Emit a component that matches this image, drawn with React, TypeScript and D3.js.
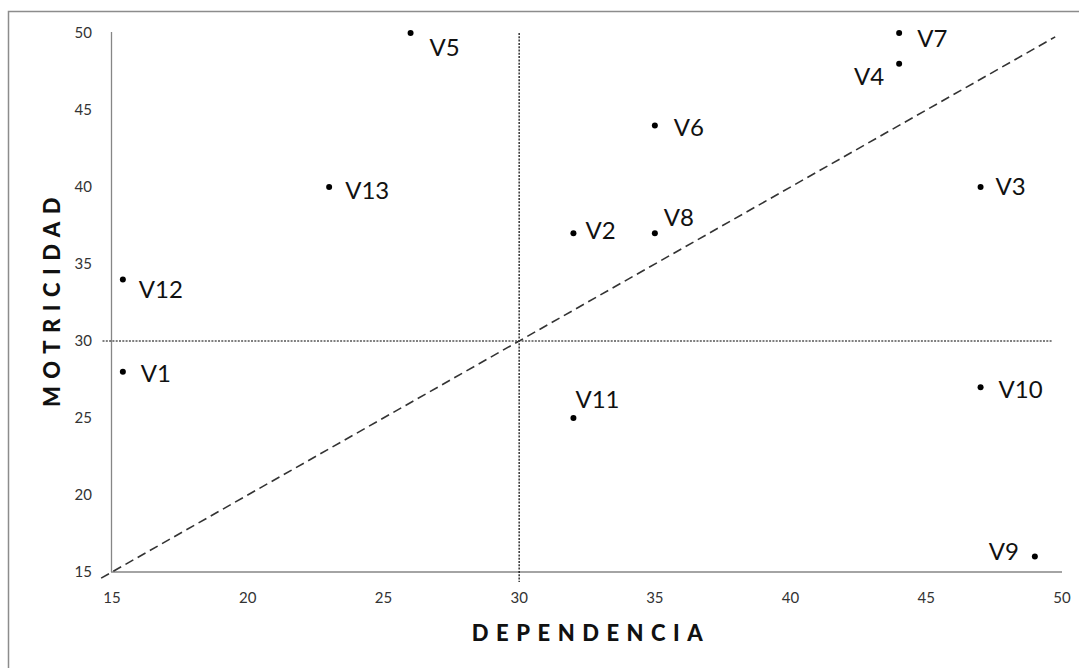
import React from "react";
import * as d3 from "d3";

const labels = ["V1", "V2", "V3", "V4", "V5", "V6", "V7", "V8", "V9", "V10", "V11", "V12", "V13"];
const dependencia = [15.4, 32, 47, 44, 26, 35, 44, 35, 49, 47, 32, 15.4, 23];
const motricidad = [28, 37, 40, 48, 50, 44, 50, 37, 16, 27, 25, 34, 40];
const xTicks = [15, 20, 25, 30, 35, 40, 45, 50];
const yTicks = [15, 20, 25, 30, 35, 40, 45, 50];
const xTitle = "DEPENDENCIA";
const yTitle = "MOTRICIDAD";
const midValue = 30;
const diagonalExtent = [14.6, 49.75];
const crossExtent = [14.65, 49.65];

// label placement (style): [dx, dy, anchor]
const labelPlacement: [number, number, string][] = [
  [18, 10, "start"], // V1
  [12, 6, "start"], // V2
  [15, 8, "start"], // V3
  [-15, 21, "end"], // V4
  [19, 23, "start"], // V5
  [19, 11, "start"], // V6
  [18, 14, "start"], // V7
  [9, -7, "start"], // V8
  [-16, 3, "end"], // V9
  [18, 11, "start"], // V10
  [2, -10, "start"], // V11
  [16, 19, "start"], // V12
  [16, 12, "start"], // V13
];

const W = 1079;
const H = 668;
const FONT = "Lato, 'Open Sans', sans-serif";

export default function App() {
  const x = d3.scaleLinear().domain([15, 50]).range([112, 1062]);
  const y = d3.scaleLinear().domain([15, 50]).range([572, 33]);
  const x0 = x(15);
  const y0 = y(15);
  const line = d3
    .line<number>()
    .x((v) => x(v))
    .y((v) => y(v));

  return (
    <svg
      width={W}
      height={H}
      style={{ position: "fixed", left: 0, top: 0, background: "#fff" }}
    >
      <rect x={8.5} y={11.5} width={W + 20} height={H + 20} fill="#fff" stroke="#8c8c8c" strokeWidth={1.5} />

      {/* axes */}
      <line x1={x0 - 0.5} x2={x0 - 0.5} y1={y(50) - 1} y2={y0} stroke="#868686" strokeWidth={1.3} />
      <line x1={x0 - 1} x2={x(50)} y1={y0} y2={y0} stroke="#868686" strokeWidth={1.3} />

      {/* y tick labels */}
      {yTicks.map((t) => (
        <text
          key={"y" + t}
          x={92}
          y={y(t)}
          dy="0.36em"
          textAnchor="end"
          fontFamily={FONT}
          fontSize={15}
          fill="#333"
        >
          {t}
        </text>
      ))}
      {/* x tick labels */}
      {xTicks.map((t) => (
        <text
          key={"x" + t}
          x={x(t)}
          y={598}
          dy="0.36em"
          textAnchor="middle"
          fontFamily={FONT}
          fontSize={15}
          fill="#333"
        >
          {t}
        </text>
      ))}

      {/* quadrant lines */}
      <line
        x1={x(crossExtent[0])}
        x2={x(crossExtent[1])}
        y1={y(midValue)}
        y2={y(midValue)}
        stroke="#000"
        strokeWidth={1.2}
        strokeDasharray="2,1.3"
      />
      <line
        x1={x(midValue)}
        x2={x(midValue)}
        y1={y(50)}
        y2={y(crossExtent[0] - 0.3)}
        stroke="#000"
        strokeWidth={1.2}
        strokeDasharray="2,1.3"
      />

      {/* diagonal */}
      <path
        d={line(diagonalExtent) || ""}
        fill="none"
        stroke="#333"
        strokeWidth={1.6}
        strokeDasharray="9,5"
      />

      {/* points */}
      {labels.map((l, i) => {
        const cx = x(dependencia[i]);
        const cy = y(motricidad[i]);
        const [dx, dy, anchor] = labelPlacement[i];
        return (
          <g key={l}>
            <circle cx={cx} cy={cy} r={3} fill="#000" />
            <text
              x={cx + dx}
              y={cy + dy}
              textAnchor={anchor}
              fontFamily={FONT}
              fontSize={24}
              fill="#111"
            >
              {l}
            </text>
          </g>
        );
      })}

      {/* titles */}
      <text
        x={(x(15) + x(50)) / 2 + 4}
        y={641}
        textAnchor="middle"
        fontFamily={FONT}
        fontWeight={900}
        fontSize={22}
        letterSpacing={7.5}
        fill="#111"
      >
        {xTitle}
      </text>
      <text
        transform={`translate(60, ${(y(15) + y(50)) / 2 - 4}) rotate(-90)`}
        textAnchor="middle"
        fontFamily={FONT}
        fontWeight={900}
        fontSize={22}
        letterSpacing={7.5}
        fill="#111"
      >
        {yTitle}
      </text>
    </svg>
  );
}
